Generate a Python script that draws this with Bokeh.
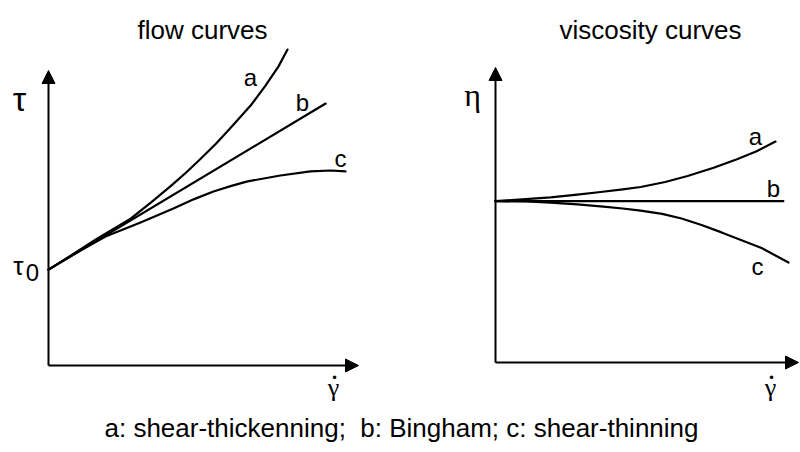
from bokeh.plotting import figure
from bokeh.models import Range1d, Arrow, NormalHead, Label
from bokeh.embed import file_html
from bokeh.resources import INLINE

# ---------------- data (arbitrary schematic units, axes run 0..10) ----------------
# flow curves: shear stress tau vs shear rate
flow_a_x = [0, 0.8, 1.58, 2.65, 3.3, 3.94, 4.45, 4.90, 5.4, 5.87, 6.52, 7.00, 7.42, 7.71]
flow_a_y = [3.25, 3.78, 4.31, 4.98, 5.52, 6.08, 6.55, 7.0, 7.52, 8.05, 8.81, 9.49, 10.14, 10.71]
flow_b_x = [0, 8.94]
flow_b_y = [3.25, 8.88]
flow_c_x = [0, 1.03, 1.84, 2.97, 4.03, 4.7, 5.32, 5.9, 6.42, 7.48, 8.45, 9.10, 9.58]
flow_c_y = [3.25, 3.90, 4.37, 4.85, 5.32, 5.64, 5.90, 6.09, 6.24, 6.44, 6.58, 6.61, 6.58]

# viscosity curves: eta vs shear rate
visc_a_x = [0, 1.0, 1.82, 2.7, 3.47, 4.2, 4.79, 5.6, 6.34, 7.2, 7.99, 8.6, 9.24]
visc_a_y = [5.47, 5.54, 5.60, 5.69, 5.78, 5.87, 5.95, 6.12, 6.32, 6.6, 6.9, 7.15, 7.49]
visc_b_x = [0, 9.50]
visc_b_y = [5.47, 5.47]
visc_c_x = [0, 1.0, 1.82, 2.7, 3.47, 4.2, 4.79, 5.5, 6.14, 6.8, 7.46, 8.1, 8.78, 9.67]
visc_c_y = [5.47, 5.46, 5.42, 5.36, 5.29, 5.22, 5.15, 5.04, 4.88, 4.66, 4.41, 4.15, 3.88, 3.39]

axis_len = 10

titles = ["flow curves", "viscosity curves"]
curve_names = ["a", "b", "c"]
caption = "a: shear-thickenning;\u00a0 b: Bingham; c: shear-thinning"

# ---------------- layout ----------------
W, H = 800, 452
# pixel position of each panel's origin and pixels per unit
LX0, LY0, LSX, LSY = 48, 365, 31.0, 29.5
RX0, RY0, RSX, RSY = 495, 362, 30.3, 29.5

p = figure(width=W, height=H, output_backend="svg", toolbar_location=None,
           x_range=Range1d(-LX0 / LSX, (W - LX0) / LSX),
           y_range=Range1d((LY0 - H) / LSY, LY0 / LSY),
           x_axis_location=None, y_axis_location=None,
           min_border=0, min_border_left=0, min_border_right=0,
           min_border_top=0, min_border_bottom=0)
p.extra_x_ranges = {"rx": Range1d(-RX0 / RSX, (W - RX0) / RSX)}
p.extra_y_ranges = {"ry": Range1d((RY0 - H) / RSY, RY0 / RSY)}
p.grid.visible = False
p.outline_line_color = None
p.background_fill_color = "white"
p.border_fill_color = "white"

lw = 2.2
style = dict(line_color="black", line_width=lw, line_join="round", line_cap="round")

for xs, ys in [(flow_a_x, flow_a_y), (flow_b_x, flow_b_y), (flow_c_x, flow_c_y)]:
    p.line(xs, ys, **style)
for xs, ys in [(visc_a_x, visc_a_y), (visc_b_x, visc_b_y), (visc_c_x, visc_c_y)]:
    p.line(xs, ys, x_range_name="rx", y_range_name="ry", **style)

def add_axes(xr="default", yr="default"):
    for (xs, ys, xe, ye) in [(0, 0, axis_len, 0), (0, 0, 0, axis_len)]:
        p.add_layout(Arrow(x_start=xs, y_start=ys, x_end=xe, y_end=ye,
                           line_color="black", line_width=2,
                           end=NormalHead(size=13, fill_color="black", line_color="black", line_width=1),
                           x_range_name=xr, y_range_name=yr))

add_axes()
add_axes("rx", "ry")

SANS = "Liberation Sans"
SERIF = "Liberation Serif"

def label(text, x, y, size, font=SANS, align="center", baseline="middle", style="normal"):
    p.add_layout(Label(x=x, y=H - y, x_units="screen", y_units="screen", text=text,
                       text_font=font, text_font_size=f"{size}px", text_color="black",
                       text_align=align, text_baseline=baseline, text_font_style=style))

# titles
label(titles[0], 202, 29, 26, baseline="alphabetic")
label(titles[1], 650, 29, 26, baseline="alphabetic")
# caption
label(caption, 401, 427, 26, baseline="alphabetic")

# axis symbols
label("\u03c4", 19, 98, 34, font=SANS)
label("\u03c4", 18, 265, 26, font=SANS)
label("0", 32, 272, 24)
label("\u03b7", 472, 94, 32, font=SERIF)
for gx in (333, 770):
    label("\u03b3", gx, 387, 26, font=SERIF)
    label("\u2022", gx + 1, 377, 13, font=SANS)

# curve names
for name, (x, y) in zip(curve_names, [(250, 77), (302, 102), (340, 158)]):
    label(name, x, y, 24)
for name, (x, y) in zip(curve_names, [(755, 136), (773, 188), (757, 266)]):
    label(name, x, y, 24)

open("out.html", "w").write(file_html(p, INLINE))
